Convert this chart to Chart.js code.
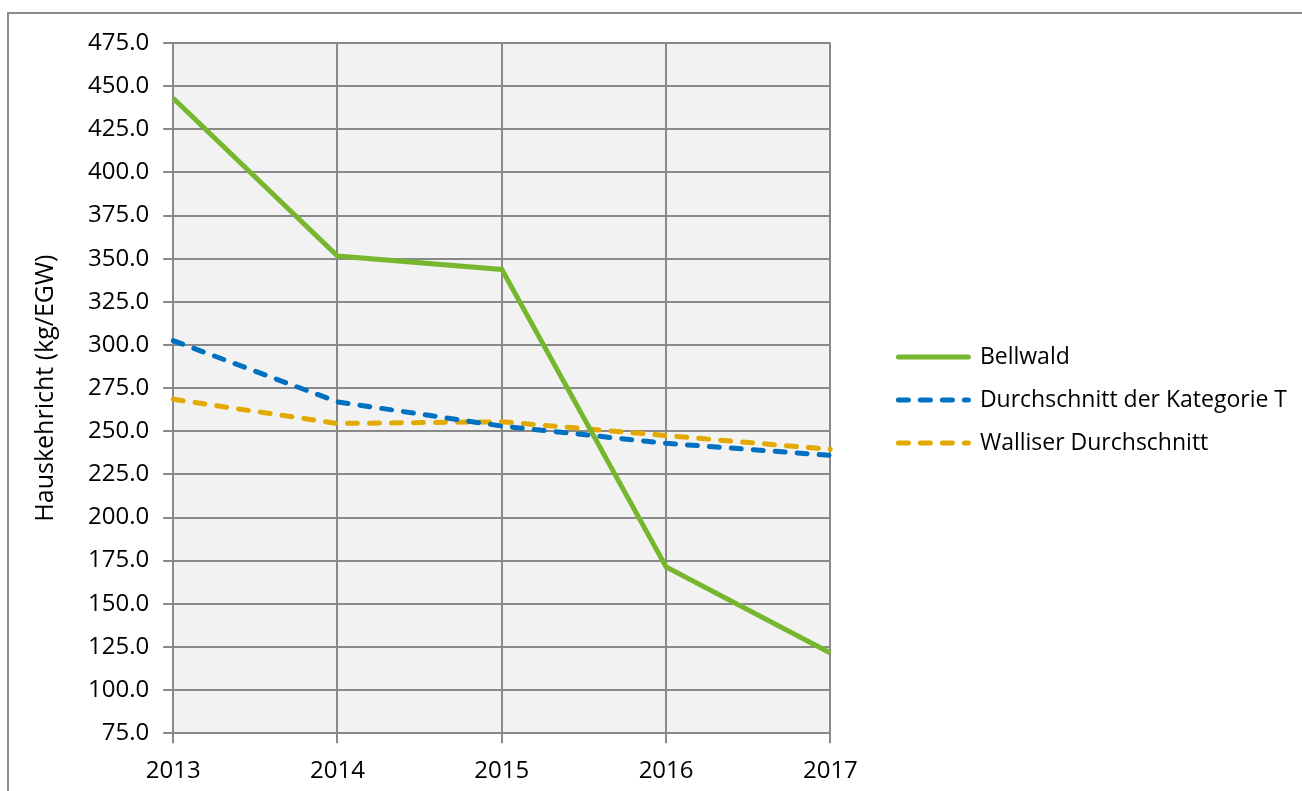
<!DOCTYPE html>
<html>
<head>
<meta charset="utf-8">
<script src="https://cdn.jsdelivr.net/npm/chart.js@4"></script>
<style>
  html, body { margin: 0; padding: 0; background: #fff; }
</style>
</head>
<body>
<canvas id="haus-chart" width="1302" height="791"></canvas>
<script>
const years = ['2013', '2014', '2015', '2016', '2017'];

const bellwald = [443.0, 351.5, 343.8, 171.4, 121.5];
const kategorieT = [302.5, 267.0, 253.0, 243.0, 236.0];
const wallis = [268.5, 254.5, 255.5, 247.5, 239.5];

const seriesLabels = ['Bellwald', 'Durchschnitt der Kategorie T', 'Walliser Durchschnitt'];
const yTitle = 'Hauskehricht (kg/EGW)';

const FONT = "'Open Sans', 'Liberation Sans', sans-serif";
const ctx = document.getElementById('haus-chart');

// grey frame + plot background
const framePlugin = {
    id: 'frame',
    beforeDraw(chart) {
        const c = chart.ctx;
        const a = chart.chartArea;
        c.save();
        c.fillStyle = '#f2f2f2';
        c.fillRect(a.left, a.top, a.right - a.left, a.bottom - a.top);
        c.strokeStyle = '#8c8c8c';
        c.lineWidth = 2;
        c.strokeRect(8, 13, 1400, 900);
        c.restore();
    }
};

new Chart(ctx, {
    type: 'line',
    data: {
        labels: years,
        datasets: [{
            label: seriesLabels[0],
            data: bellwald,
            borderColor: '#77b72f',
            backgroundColor: '#77b72f',
            borderWidth: 5,
            pointRadius: 0,
            tension: 0
        }, {
            label: seriesLabels[1],
            data: kategorieT,
            borderColor: '#0070c0',
            backgroundColor: '#0070c0',
            borderWidth: 5,
            borderDash: [10, 12],
            borderCapStyle: 'round',
            pointRadius: 0,
            tension: 0
        }, {
            label: seriesLabels[2],
            data: wallis,
            borderColor: '#e2aa00',
            backgroundColor: '#e2aa00',
            borderWidth: 5,
            borderDash: [10, 12],
            borderCapStyle: 'round',
            pointRadius: 0,
            tension: 0
        }]
    },
    options: {
        responsive: false,
        animation: false,
        color: '#000',
        layout: {
            padding: { left: 31, top: 43, right: 5, bottom: -9 }
        },
        plugins: {
            tooltip: { enabled: false },
            legend: {
                position: 'right',
                fullSize: false,
                maxWidth: 600,
                title: { display: true, text: ' ', color: '#000', font: { size: 10 }, padding: 6 },
                labels: {
                    usePointStyle: true,
                    pointStyleWidth: 70,
                    padding: 20,
                    color: '#000',
                    font: { family: FONT, size: 23 },
                    generateLabels(chart) {
                        return chart.data.datasets.map((ds, i) => ({
                            text: ds.label,
                            fontColor: '#000',
                            fillStyle: ds.borderColor,
                            strokeStyle: ds.borderColor,
                            lineWidth: 5,
                            lineCap: 'round',
                            lineDash: ds.borderDash || [],
                            pointStyle: 'line',
                            datasetIndex: i
                        }));
                    }
                }
            }
        },
        scales: {
            x: {
                offset: false,
                grid: { color: '#898989', lineWidth: 2, tickLength: 10 },
                border: { color: '#898989', width: 2 },
                ticks: { color: '#000', font: { family: FONT, size: 24 }, padding: 14, maxRotation: 0 }
            },
            y: {
                min: 75,
                max: 475,
                grid: { color: '#898989', lineWidth: 2, tickLength: 10 },
                border: { color: '#898989', width: 2 },
                ticks: {
                    stepSize: 25,
                    color: '#000',
                    font: { family: FONT, size: 24 },
                    padding: 14,
                    callback: v => v.toFixed(1)
                },
                title: {
                    display: true,
                    text: yTitle,
                    color: '#000',
                    font: { family: FONT, size: 25 },
                    padding: { top: 0, bottom: 13 }
                }
            },
            // empty spacer between plot and legend
            gap: {
                type: 'linear',
                position: 'right',
                grid: { display: false },
                border: { display: false },
                ticks: { display: false },
                afterFit(scale) { scale.width = 48; }
            }
        }
    },
    plugins: [framePlugin]
});
</script>
</body>
</html>
